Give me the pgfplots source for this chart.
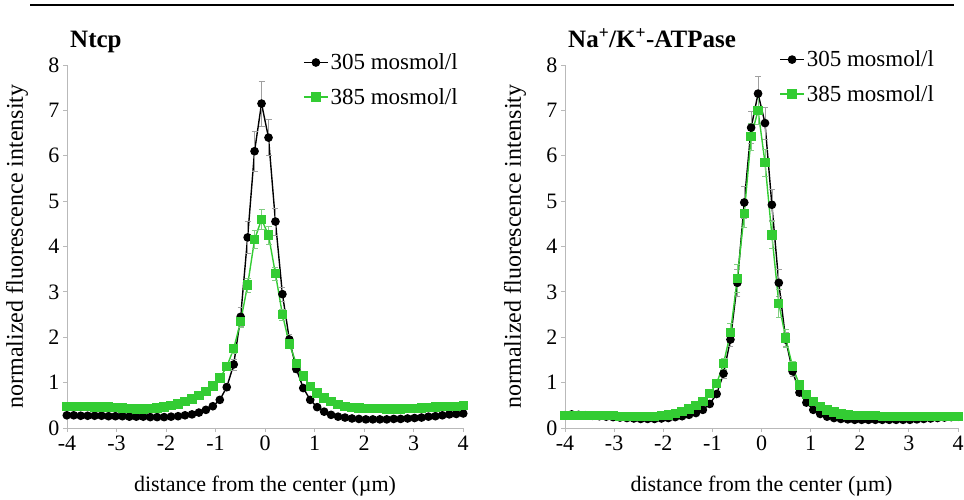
\documentclass[border=0pt]{standalone}
\usepackage{pgfplots}
\usepackage{pgfplotstable}
\pgfplotsset{compat=1.18}
\usepackage{fontspec}
\setmainfont{Liberation Serif}
\definecolor{mygreen}{RGB}{51,204,51}
\definecolor{errgreen}{RGB}{130,205,130}

\pgfplotstableread{
x b be g ge
-4.004 0.28 0.04 0.47 0.04
-3.864 0.28 0.04 0.47 0.04
-3.723 0.27 0.04 0.47 0.04
-3.583 0.27 0.04 0.47 0.04
-3.442 0.27 0.04 0.46 0.04
-3.302 0.27 0.04 0.46 0.04
-3.161 0.26 0.04 0.46 0.04
-3.021 0.26 0.04 0.45 0.04
-2.880 0.26 0.04 0.44 0.04
-2.740 0.25 0.04 0.43 0.04
-2.599 0.25 0.04 0.42 0.04
-2.459 0.25 0.04 0.42 0.04
-2.318 0.24 0.04 0.43 0.04
-2.178 0.24 0.04 0.44 0.04
-2.037 0.24 0.04 0.46 0.04
-1.897 0.25 0.04 0.49 0.04
-1.756 0.26 0.04 0.53 0.04
-1.616 0.28 0.04 0.58 0.04
-1.475 0.30 0.04 0.64 0.04
-1.335 0.34 0.04 0.72 0.04
-1.194 0.40 0.04 0.81 0.05
-1.054 0.48 0.05 0.93 0.05
-0.913 0.62 0.06 1.10 0.06
-0.773 0.90 0.08 1.35 0.07
-0.632 1.40 0.12 1.75 0.10
-0.492 2.45 0.20 2.35 0.12
-0.351 4.20 0.35 3.15 0.15
-0.211 6.10 0.45 4.15 0.20
-0.070 7.15 0.50 4.60 0.22
0.071 6.40 0.40 4.25 0.20
0.211 4.55 0.30 3.40 0.15
0.352 2.95 0.15 2.50 0.12
0.492 1.95 0.12 1.85 0.10
0.633 1.30 0.08 1.42 0.07
0.773 0.88 0.06 1.15 0.06
0.914 0.62 0.05 0.92 0.05
1.054 0.46 0.04 0.77 0.05
1.195 0.36 0.04 0.66 0.04
1.335 0.29 0.04 0.58 0.04
1.476 0.25 0.04 0.52 0.04
1.616 0.23 0.04 0.48 0.04
1.757 0.21 0.04 0.45 0.04
1.897 0.20 0.04 0.44 0.04
2.038 0.19 0.04 0.43 0.04
2.178 0.19 0.04 0.43 0.04
2.319 0.19 0.04 0.43 0.04
2.459 0.19 0.04 0.42 0.04
2.600 0.20 0.04 0.42 0.04
2.740 0.20 0.04 0.42 0.04
2.881 0.21 0.04 0.43 0.04
3.021 0.22 0.04 0.43 0.04
3.162 0.23 0.04 0.44 0.04
3.302 0.25 0.04 0.45 0.04
3.443 0.26 0.04 0.46 0.04
3.583 0.28 0.04 0.47 0.04
3.724 0.30 0.04 0.48 0.04
3.864 0.31 0.04 0.48 0.04
4.005 0.32 0.04 0.49 0.04
}\ntcp

\pgfplotstableread{
x b be g ge
-4.004 0.28 0.04 0.27 0.04
-3.864 0.30 0.04 0.27 0.04
-3.723 0.29 0.04 0.27 0.04
-3.583 0.28 0.04 0.27 0.04
-3.442 0.27 0.04 0.27 0.04
-3.302 0.26 0.04 0.27 0.04
-3.161 0.25 0.04 0.27 0.04
-3.021 0.24 0.04 0.27 0.04
-2.880 0.23 0.04 0.26 0.04
-2.740 0.22 0.04 0.26 0.04
-2.599 0.21 0.04 0.25 0.04
-2.459 0.20 0.04 0.25 0.04
-2.318 0.20 0.04 0.25 0.04
-2.178 0.20 0.04 0.26 0.04
-2.037 0.21 0.04 0.27 0.04
-1.897 0.22 0.04 0.29 0.04
-1.756 0.24 0.04 0.32 0.04
-1.616 0.26 0.04 0.36 0.04
-1.475 0.29 0.04 0.42 0.04
-1.335 0.33 0.04 0.49 0.04
-1.194 0.40 0.04 0.59 0.05
-1.054 0.53 0.05 0.76 0.05
-0.913 0.75 0.06 0.98 0.06
-0.773 1.20 0.10 1.42 0.12
-0.632 1.95 0.15 2.10 0.20
-0.492 3.20 0.30 3.30 0.30
-0.351 4.97 0.35 4.73 0.30
-0.211 6.62 0.35 6.42 0.30
-0.070 7.37 0.38 7.00 0.30
0.071 6.72 0.35 5.85 0.30
0.211 4.92 0.35 4.25 0.30
0.352 3.20 0.30 2.75 0.30
0.492 1.95 0.15 1.98 0.20
0.633 1.25 0.10 1.35 0.12
0.773 0.78 0.06 0.95 0.06
0.914 0.56 0.05 0.74 0.05
1.054 0.40 0.04 0.58 0.05
1.195 0.31 0.04 0.48 0.04
1.335 0.25 0.04 0.40 0.04
1.476 0.22 0.04 0.35 0.04
1.616 0.20 0.04 0.31 0.04
1.757 0.19 0.04 0.29 0.04
1.897 0.18 0.04 0.28 0.04
2.038 0.18 0.04 0.27 0.04
2.178 0.18 0.04 0.27 0.04
2.319 0.18 0.04 0.27 0.04
2.459 0.18 0.04 0.26 0.04
2.600 0.18 0.04 0.26 0.04
2.740 0.18 0.04 0.26 0.04
2.881 0.18 0.04 0.26 0.04
3.021 0.18 0.04 0.26 0.04
3.162 0.19 0.04 0.26 0.04
3.302 0.20 0.04 0.26 0.04
3.443 0.21 0.04 0.26 0.04
3.583 0.22 0.04 0.26 0.04
3.724 0.23 0.04 0.26 0.04
3.864 0.24 0.04 0.26 0.04
4.005 0.25 0.04 0.26 0.04
}\atpase

\newcommand{\bigf}{\fontsize{22}{26}\selectfont}
\newcommand{\legf}{\fontsize{23}{27}\selectfont}
\newcommand{\ylf}{\fontsize{24}{28}\selectfont}
\newcommand{\titf}{\fontsize{25}{29}\selectfont}

\pgfplotsset{
  myaxis/.style={
    scale only axis,
    anchor=south west,
    height=363pt,
    xmin=-4, xmax=4, ymin=0, ymax=8,
    xtick={-4,...,4}, ytick={0,...,8},
    axis x line*=bottom, axis y line*=left,
    axis line style={-, draw=gray!55, line width=0.8pt},
    tick style={draw=gray!55, line width=0.8pt},
    tick align=outside, major tick length=4pt,
    clip=false,
    /pgf/number format/assume math mode=true,
    tick label style={font=\bigf},
    xlabel style={font=\bigf},
    ylabel style={font=\ylf},
    legend style={draw=none, fill=none, inner sep=0pt, font=\legf, row sep=13pt,
      /tikz/every even column/.append style={column sep=0pt}},
    legend cell align=left,
    legend image code/.code={
      \draw[mark repeat=2,mark phase=2,##1] plot coordinates {(0pt,0pt) (12pt,0pt) (24pt,0pt)};
    },
    xlabel={distance from the center (µm)},
    ylabel={normalized fluorescence intensity},
  },
  blk/.style={black, line width=1.4pt, mark=*, mark size=3.6pt,
    mark options={solid, fill=black},
    error bars/.cd, y dir=both, y explicit,
    error bar style={gray!75, line width=0.6pt},
    error mark options={rotate=90, mark size=3pt, gray!75, line width=0.6pt}},
  grn/.style={mygreen, line width=1.4pt, mark=square*, mark size=4pt,
    mark options={solid, fill=mygreen},
    error bars/.cd, y dir=both, y explicit,
    error bar style={errgreen, line width=0.6pt},
    error mark options={rotate=90, mark size=3pt, errgreen, line width=0.6pt}},
}

\begin{document}
\begin{tikzpicture}
\path[use as bounding box] (0pt,0pt) rectangle (964pt,499pt);
\draw[line width=2pt] (30pt,494pt) -- (954pt,494pt);

\begin{axis}[myaxis, at={(67pt,71pt)}, width=396pt,
  xlabel style={at={(axis description cs:0.5,-0.16)}, anchor=center},
  ylabel style={at={(axis description cs:-0.126,0.5)}, anchor=center},
  legend style={at={(rel axis cs:0.596,1.037)}, anchor=north west}]
\addplot+[blk] table[x=x, y=b, y error=be] {\ntcp};
\addlegendentry{305 mosmol/l}
\addplot+[grn] table[x=x, y=g, y error=ge] {\ntcp};
\addlegendentry{385 mosmol/l}
\end{axis}

\begin{axis}[myaxis, at={(565pt,71pt)}, width=393pt,
  xlabel style={at={(axis description cs:0.5,-0.16)}, anchor=center},
  ylabel style={at={(axis description cs:-0.127,0.5)}, anchor=center},
  legend style={at={(rel axis cs:0.545,1.045)}, anchor=north west}]
\addplot+[blk] table[x=x, y=b, y error=be] {\atpase};
\addlegendentry{305 mosmol/l}
\addplot+[grn] table[x=x, y=g, y error=ge] {\atpase};
\addlegendentry{385 mosmol/l}
\end{axis}

\node[anchor=base west, inner sep=0pt, font=\bfseries\titf] at (70pt,451pt) {Ntcp};
\node[anchor=base west, inner sep=0pt, font=\bfseries\titf] at (568pt,451pt) {Na\textsuperscript{+}/K\textsuperscript{+}-ATPase};
\end{tikzpicture}
\end{document}
